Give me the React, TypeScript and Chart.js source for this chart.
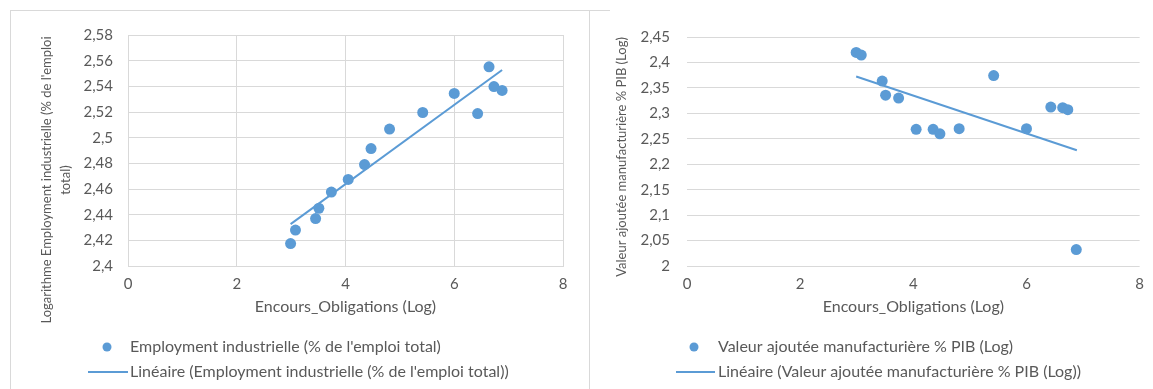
import React, { useEffect, useRef } from "react";
import { Chart, registerables } from "chart.js";

Chart.register(...registerables);

// ---------- data ----------
const bondsLog = [2.99, 3.08, 3.45, 3.51, 3.74, 4.05, 4.35, 4.47, 4.81, 5.42, 6.0, 6.43, 6.64, 6.73, 6.88];
const employmentLog = [2.4175, 2.428, 2.437, 2.445, 2.4576, 2.4675, 2.479, 2.4915, 2.5067, 2.5196, 2.5345, 2.5188, 2.5552, 2.5398, 2.5368];
const valueAddedLog = [2.4197, 2.4146, 2.3634, 2.3356, 2.3299, 2.2686, 2.2686, 2.2598, 2.2699, 2.3742, 2.2699, 2.3122, 2.311, 2.3072, 2.0322];

const employmentTrendX = [2.99, 6.88];
const employmentTrendY = [2.4326, 2.5527];
const valueAddedTrendX = [2.99, 6.89];
const valueAddedTrendY = [2.3723, 2.2275];

const xTicks = [0, 2, 4, 6, 8];
const employmentTicks = [2.4, 2.42, 2.44, 2.46, 2.48, 2.5, 2.52, 2.54, 2.56, 2.58];
const valueAddedTicks = [2, 2.05, 2.1, 2.15, 2.2, 2.25, 2.3, 2.35, 2.4, 2.45];

const xTitle = "Encours_Obligations (Log)";
const employmentYTitle = ["Logarithme Employment industrielle (% de l'emploi", "total)"];
const valueAddedYTitle = ["Valeur ajoutée manufacturière % PIB (Log)"];
const employmentSeries = "Employment industrielle (% de l'emploi total)";
const employmentTrendName = "Linéaire (Employment industrielle (% de l'emploi total))";
const valueAddedSeries = "Valeur ajoutée manufacturière % PIB (Log)";
const valueAddedTrendName = "Linéaire (Valeur ajoutée manufacturière % PIB (Log))";

const BLUE = "#5B9BD5";
const TEXT = "#595959";
const GRID = "#d9d9d9";
const FONT = "Lato, 'Open Sans', sans-serif";

type PanelCfg = {
  xs: number[];
  ys: number[];
  tx: number[];
  ty: number[];
  yTicks: number[];
  yTitle: string[];
  series: string;
  trend: string;
  verticalGrid: boolean;
  area: { left: number; right: number; top: number; bottom: number };
  tickPad: number;
  yTitleX: number[];
  yTitleY: number;
  legendMarkerX: number;
  legendLineX: [number, number];
  legendTextX: number;
};

const fmt = (v: number) => String(Number(v.toFixed(2))).replace(".", ",");

function Panel({ cfg, width, height }: { cfg: PanelCfg; width: number; height: number }) {
  const ref = useRef<HTMLCanvasElement | null>(null);
  useEffect(() => {
    if (!ref.current) return;
    const a = cfg.area;
    const overlay = {
      id: "overlay",
      afterDraw(chart: any) {
        const ctx = chart.ctx;
        const ca = chart.chartArea;
        ctx.save();
        ctx.fillStyle = TEXT;
        ctx.textBaseline = "middle";
        // y title
        ctx.font = `13px ${FONT}`;
        ctx.textAlign = "center";
        cfg.yTitle.forEach((line, i) => {
          ctx.save();
          ctx.translate(cfg.yTitleX[i], cfg.yTitleY);
          ctx.rotate(-Math.PI / 2);
          ctx.fillText(line, 0, 0);
          ctx.restore();
        });
        // x title
        ctx.font = `16px ${FONT}`;
        ctx.fillText(xTitle, (ca.left + ca.right) / 2, 296);
        // legend
        ctx.textAlign = "left";
        ctx.fillText(cfg.series, cfg.legendTextX, 336);
        ctx.fillText(cfg.trend, cfg.legendTextX, 361);
        ctx.fillStyle = BLUE;
        ctx.beginPath();
        ctx.arc(cfg.legendMarkerX, 336, 4.5, 0, Math.PI * 2);
        ctx.fill();
        ctx.strokeStyle = BLUE;
        ctx.lineWidth = 2;
        ctx.beginPath();
        ctx.moveTo(cfg.legendLineX[0], 361);
        ctx.lineTo(cfg.legendLineX[1], 361);
        ctx.stroke();
        ctx.restore();
      },
    };
    const chart = new Chart(ref.current, {
      type: "scatter",
      data: {
        datasets: [
          {
            label: cfg.trend,
            data: cfg.tx.map((x, i) => ({ x, y: cfg.ty[i] })),
            showLine: true,
            borderColor: BLUE,
            borderWidth: 2,
            pointRadius: 0,
            backgroundColor: BLUE,
          },
          {
            label: cfg.series,
            data: cfg.xs.map((x, i) => ({ x, y: cfg.ys[i] })),
            pointRadius: 5.5,
            pointBackgroundColor: BLUE,
            pointBorderColor: BLUE,
            pointBorderWidth: 0,
            showLine: false,
          },
        ],
      },
      options: {
        animation: false,
        responsive: false,
        maintainAspectRatio: false,
        layout: { padding: { left: 0, top: a.top, right: width - a.right, bottom: 0 } },
        plugins: { legend: { display: false }, tooltip: { enabled: false } },
        scales: {
          x: {
            type: "linear",
            min: 0,
            max: 8,
            afterBuildTicks: (s: any) => {
              s.ticks = xTicks.map((v) => ({ value: v }));
            },
            afterFit: (s: any) => {
              s.height = height - a.bottom;
            },
            grid: { display: cfg.verticalGrid, color: GRID, lineWidth: 1, drawTicks: false },
            border: { display: cfg.verticalGrid, color: GRID },
            ticks: { color: TEXT, font: { family: FONT, size: 15 }, padding: 9 },
          },
          y: {
            type: "linear",
            min: cfg.yTicks[0],
            max: cfg.yTicks[cfg.yTicks.length - 1],
            afterBuildTicks: (s: any) => {
              s.ticks = cfg.yTicks.map((v) => ({ value: v }));
            },
            afterFit: (s: any) => {
              s.width = a.left;
            },
            grid: { color: GRID, lineWidth: 1, drawTicks: false },
            border: { display: cfg.verticalGrid, color: GRID },
            ticks: {
              color: TEXT,
              font: { family: FONT, size: 15 },
              padding: cfg.tickPad,
              callback: (v: any) => fmt(Number(v)),
            },
          },
        },
      },
      plugins: [overlay],
    });
    return () => chart.destroy();
  }, []);
  return <canvas ref={ref} width={width} height={height} style={{ width, height, display: "block" }} />;
}

const leftCfg: PanelCfg = {
  xs: bondsLog,
  ys: employmentLog,
  tx: employmentTrendX,
  ty: employmentTrendY,
  yTicks: employmentTicks,
  yTitle: employmentYTitle,
  series: employmentSeries,
  trend: employmentTrendName,
  verticalGrid: true,
  area: { left: 117, right: 552, top: 17, bottom: 255 },
  tickPad: 15,
  yTitleX: [36, 55],
  yTitleY: 169,
  legendMarkerX: 96,
  legendLineX: [77, 117],
  legendTextX: 119,
};

const rightCfg: PanelCfg = {
  xs: bondsLog,
  ys: valueAddedLog,
  tx: valueAddedTrendX,
  ty: valueAddedTrendY,
  yTicks: valueAddedTicks,
  yTitle: valueAddedYTitle,
  series: valueAddedSeries,
  trend: valueAddedTrendName,
  verticalGrid: false,
  area: { left: 97, right: 551, top: 17, bottom: 255 },
  tickPad: 17,
  yTitleX: [32],
  yTitleY: 146,
  legendMarkerX: 104,
  legendLineX: [86, 125],
  legendTextX: 128,
};

export default function App() {
  return (
    <div
      style={{
        position: "fixed",
        left: 0,
        top: 0,
        width: 1153,
        height: 389,
        background: "#ffffff",
        overflow: "hidden",
      }}
    >
      <div
        style={{
          position: "absolute",
          left: 10,
          top: 10,
          width: 600,
          height: 420,
          borderLeft: `1px solid ${GRID}`,
          borderTop: `1px solid ${GRID}`,
          boxSizing: "border-box",
        }}
      />
      <div
        style={{
          position: "absolute",
          left: 589,
          top: 10,
          width: 600,
          height: 420,
          borderLeft: `1px solid ${GRID}`,
          boxSizing: "border-box",
        }}
      />
      <div style={{ position: "absolute", left: 11, top: 11 }}>
        <Panel cfg={leftCfg} width={578} height={378} />
      </div>
      <div style={{ position: "absolute", left: 590, top: 11 }}>
        <Panel cfg={rightCfg} width={563} height={378} />
      </div>
    </div>
  );
}
